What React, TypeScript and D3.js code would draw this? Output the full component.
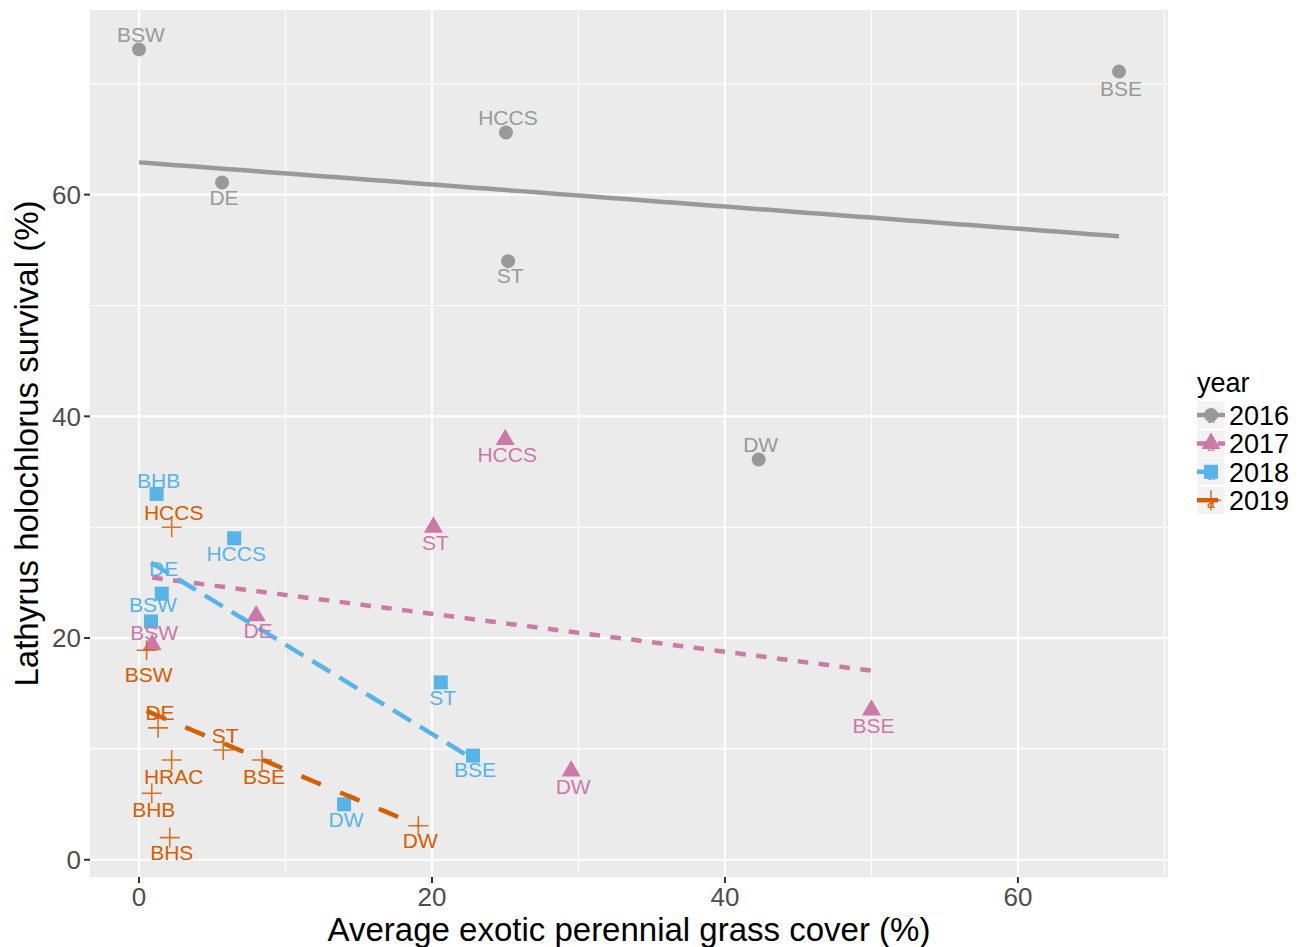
import React from 'react';
import * as d3 from 'd3';

// ---------- data ----------
const years = ['2016', '2017', '2018', '2019'];
const yearColors = ['#999999', '#CC79A7', '#56B4E9', '#D55E00'];

const sites2016 = ['BSW', 'DE', 'HCCS', 'ST', 'DW', 'BSE'];
const cover2016 = [0, 5.67, 25.05, 25.2, 42.3, 66.9];
const survival2016 = [73.1, 61.1, 65.6, 54.0, 36.1, 71.1];

const sites2017 = ['HCCS', 'ST', 'DE', 'BSW', 'BSE', 'DW'];
const cover2017 = [25.0, 20.1, 8.0, 0.9, 50.0, 29.5];
const survival2017 = [37.9, 30.0, 22.0, 19.4, 13.5, 8.0];

const sites2018 = ['BHB', 'HCCS', 'DE', 'BSW', 'ST', 'BSE', 'DW'];
const cover2018 = [1.2, 6.5, 1.55, 0.82, 20.6, 22.8, 14.0];
const survival2018 = [33.0, 29.0, 24.0, 21.5, 16.0, 9.4, 5.0];

const sites2019 = ['HCCS', 'BSW', 'DE', 'ST', 'HRAC', 'BSE', 'BHB', 'BHS', 'DW'];
const cover2019 = [2.23, 0.52, 1.3, 5.75, 2.23, 8.4, 0.87, 2.1, 19.07];
const survival2019 = [30.0, 18.9, 11.9, 9.9, 9.0, 9.0, 6.0, 2.0, 3.07];

const xTicks = [0, 20, 40, 60];
const yTicks = [0, 20, 40, 60];
const xMinor = [10, 30, 50, 70];
const yMinor = [10, 30, 50, 70];

// label placement (vertical nudge in px, like the repelled labels of the original)
const labelNudge = [
  [-15, 15, -15, 14, -15, 17],
  [15, 15, 15, -12, 15, 15],
  [-13, 15, -25, -17, 15, 14, 15],
  [-15, 24, -15, -15, 16, 16, 16, 15, 15],
];

const series = [
  { sites: sites2016, x: cover2016, y: survival2016 },
  { sites: sites2017, x: cover2017, y: survival2017 },
  { sites: sites2018, x: cover2018, y: survival2018 },
  { sites: sites2019, x: cover2019, y: survival2019 },
];

// ---------- layout ----------
const W = 1304;
const H = 947;
const panel = { left: 90, right: 1168, top: 10, bottom: 877 };
const FONT = "'Liberation Sans', Arial, Helvetica, sans-serif";
const dashUnit = 5.25;
const dashes = ['none', `${2 * dashUnit},${2 * dashUnit}`, `${4 * dashUnit},${2 * dashUnit}`, `${4 * dashUnit},${4 * dashUnit}`];

function lm(xs: number[], ys: number[]) {
  const mx = d3.mean(xs) as number;
  const my = d3.mean(ys) as number;
  let sxy = 0, sxx = 0;
  xs.forEach((x, i) => { sxy += (x - mx) * (ys[i] - my); sxx += (x - mx) ** 2; });
  const b = sxy / sxx;
  const a = my - b * mx;
  return (x: number) => a + b * x;
}

function expand(ext: [number, number]): [number, number] {
  const r = ext[1] - ext[0];
  return [ext[0] - 0.05 * r, ext[1] + 0.05 * r];
}

function Shape({ kind, cx, cy, color }: { kind: number; cx: number; cy: number; color: string }) {
  if (kind === 0) return <circle cx={cx} cy={cy} r={7} fill={color} />;
  if (kind === 1) {
    const xc0 = 7.05;
    const r = 1.55512 * xc0, yc = 0.77756 * xc0, xc = 1.346774 * xc0;
    return <path d={`M${cx},${cy - r}L${cx + xc},${cy + yc}L${cx - xc},${cy + yc}Z`} fill={color} />;
  }
  if (kind === 2) return <rect x={cx - 7} y={cy - 7} width={14} height={14} fill={color} />;
  const a = 10;
  return (
    <path d={`M${cx - a},${cy}H${cx + a}M${cx},${cy - a}V${cy + a}`} stroke={color} strokeWidth={1.6} strokeOpacity={0.85} fill="none" />
  );
}

export default function App() {
  const allX = series.flatMap((s) => s.x);
  const allY = series.flatMap((s) => s.y);
  const x = d3.scaleLinear().domain(expand(d3.extent(allX) as [number, number])).range([panel.left, panel.right]);
  const y = d3.scaleLinear().domain(expand(d3.extent(allY) as [number, number])).range([panel.bottom, panel.top]);

  const line = d3.line<[number, number]>().x((d) => x(d[0])).y((d) => y(d[1]));

  const legendRowY = (i: number) => 415 + i * 28.4;

  return (
    <svg width={W} height={H} style={{ display: 'block', position: 'absolute', left: 0, top: 0 }} fontFamily={FONT}>
      <rect x={0} y={0} width={W} height={H} fill="#ffffff" />
      {/* panel */}
      <rect x={panel.left} y={panel.top} width={panel.right - panel.left} height={panel.bottom - panel.top} fill="#EBEBEB" />
      {xMinor.filter((v) => x(v) < panel.right).map((v) => (
        <line key={'xm' + v} x1={x(v)} x2={x(v)} y1={panel.top} y2={panel.bottom} stroke="#fff" strokeWidth={1.1} />
      ))}
      {yMinor.filter((v) => y(v) > panel.top).map((v) => (
        <line key={'ym' + v} y1={y(v)} y2={y(v)} x1={panel.left} x2={panel.right} stroke="#fff" strokeWidth={1.1} />
      ))}
      {xTicks.map((v) => (
        <line key={'xM' + v} x1={x(v)} x2={x(v)} y1={panel.top} y2={panel.bottom} stroke="#fff" strokeWidth={2.2} />
      ))}
      {yTicks.map((v) => (
        <line key={'yM' + v} y1={y(v)} y2={y(v)} x1={panel.left} x2={panel.right} stroke="#fff" strokeWidth={2.2} />
      ))}

      {/* points */}
      {series.map((s, si) => (
        <g key={'p' + si}>
          {s.x.map((xv, i) => (
            <Shape key={i} kind={si} cx={x(xv)} cy={y(s.y[i])} color={yearColors[si]} />
          ))}
        </g>
      ))}

      {/* regression lines */}
      {series.map((s, si) => {
        const f = lm(s.x, s.y);
        const [x0, x1] = d3.extent(s.x) as [number, number];
        const pts: [number, number][] = d3.range(80).map((k) => {
          const xv = x0 + ((x1 - x0) * k) / 79;
          return [xv, f(xv)];
        });
        return (
          <path key={'l' + si} d={line(pts) || ''} fill="none" stroke={yearColors[si]} strokeWidth={4.5}
            strokeDasharray={dashes[si]} />
        );
      })}

      {/* labels */}
      {series.map((s, si) => (
        <g key={'t' + si} fontSize={21} fill={yearColors[si]} textAnchor="middle">
          {s.sites.map((name, i) => (
            <text key={i} x={x(s.x[i]) + 2} y={y(s.y[i]) + labelNudge[si][i]} dy="0.36em">{name}</text>
          ))}
        </g>
      ))}

      {/* axes */}
      {xTicks.map((v) => (
        <g key={'xt' + v}>
          <line x1={x(v)} x2={x(v)} y1={panel.bottom} y2={panel.bottom + 6} stroke="#333333" strokeWidth={2} />
          <text x={x(v)} y={906} textAnchor="middle" fontSize={26} fill="#4D4D4D">{v}</text>
        </g>
      ))}
      {yTicks.map((v) => (
        <g key={'yt' + v}>
          <line x1={panel.left - 6} x2={panel.left} y1={y(v)} y2={y(v)} stroke="#333333" strokeWidth={2} />
          <text x={81} y={y(v)} dy="0.36em" textAnchor="end" fontSize={26} fill="#4D4D4D">{v}</text>
        </g>
      ))}
      <text x={(panel.left + panel.right) / 2} y={941} textAnchor="middle" fontSize={33} fill="#000">
        Average exotic perennial grass cover (%)
      </text>
      <text transform={`translate(38,${(panel.top + panel.bottom) / 2}) rotate(-90)`} textAnchor="middle" fontSize={33} fill="#000">
        Lathyrus holochlorus survival (%)
      </text>

      {/* legend */}
      <text x={1197} y={392} fontSize={27} fill="#000">year</text>
      {years.map((yr, i) => {
        const cy = legendRowY(i);
        const cx = 1211;
        return (
          <g key={'lg' + yr}>
            <rect x={1197} y={cy - 14.2} width={28} height={28.4} fill="#F2F2F2" stroke="#fff" strokeWidth={1} />
            <Shape kind={i} cx={cx} cy={cy} color={yearColors[i]} />
            <line x1={1197} x2={1225} y1={cy} y2={cy} stroke={yearColors[i]} strokeWidth={4.5} strokeDasharray={dashes[i]} />
            <text x={cx} y={cy + 8} textAnchor="middle" fontSize={14} fill={yearColors[i]}>a</text>
            <text x={1229} y={cy} dy="0.36em" fontSize={27} fill="#000">{yr}</text>
          </g>
        );
      })}
    </svg>
  );
}
